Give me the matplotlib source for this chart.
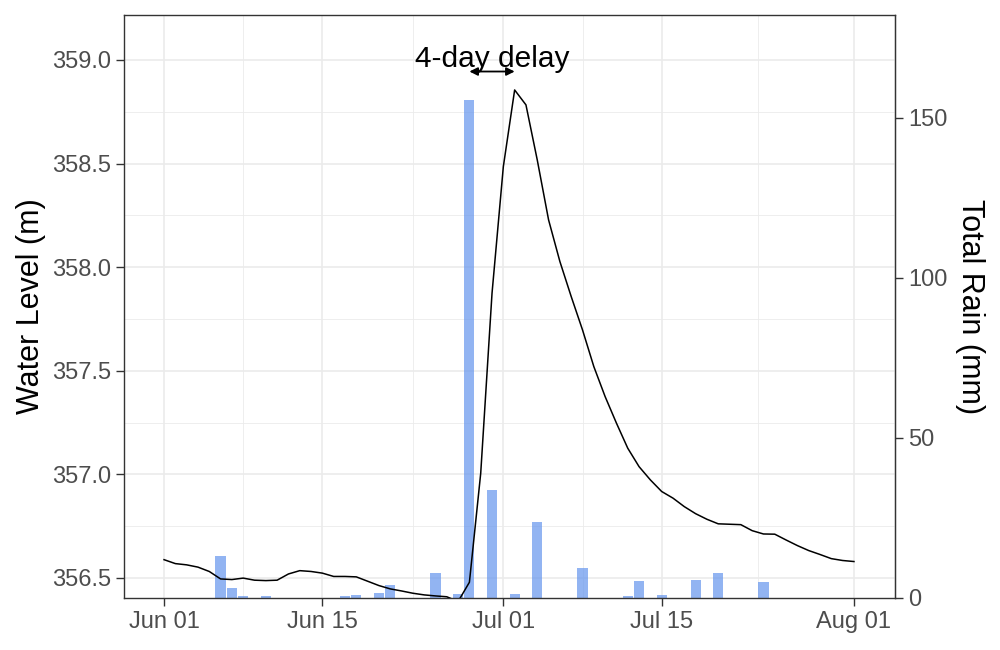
import datetime as dt
import matplotlib
matplotlib.use('Agg')
from matplotlib import pyplot as plt
import matplotlib.dates as mdates
from matplotlib.ticker import MultipleLocator, FixedLocator

plt.rcParams['font.family'] = ['Liberation Sans', 'DejaVu Sans']

# daily water level (m), Jun 01 .. Aug 01
level_start = dt.date(2021, 6, 1)
level = [356.588, 356.569, 356.563, 356.552, 356.531, 356.495, 356.492, 356.499,
         356.489, 356.487, 356.489, 356.519, 356.535, 356.531, 356.523, 356.507,
         356.507, 356.505, 356.484, 356.463, 356.447, 356.437, 356.426, 356.418,
         356.413, 356.409, 356.386, 356.479, 357.005, 357.874, 358.485, 358.855,
         358.783, 358.517, 358.228, 358.027, 357.858, 357.697, 357.520, 357.375,
         357.247, 357.126, 357.037, 356.973, 356.917, 356.885, 356.844, 356.810,
         356.783, 356.761, 356.759, 356.757, 356.728, 356.712, 356.711, 356.683,
         356.656, 356.632, 356.613, 356.593, 356.584, 356.579]

# daily rain totals (mm)
rain_days = ['2021-06-06', '2021-06-07', '2021-06-08', '2021-06-10', '2021-06-17',
             '2021-06-18', '2021-06-20', '2021-06-21', '2021-06-25', '2021-06-27',
             '2021-06-28', '2021-06-30', '2021-07-02', '2021-07-04', '2021-07-08',
             '2021-07-12', '2021-07-13', '2021-07-15', '2021-07-18', '2021-07-20',
             '2021-07-24']
rain_mm = [13.1, 3.1, 0.6, 0.6, 0.6, 1.0, 1.6, 4.0, 7.8, 1.3, 155.6, 33.7, 1.3,
           23.7, 9.4, 0.6, 5.3, 0.9, 5.6, 7.8, 5.0]

x_breaks = ['2021-06-01', '2021-06-15', '2021-07-01', '2021-07-15', '2021-08-01']
x_labels = ['Jun 01', 'Jun 15', 'Jul 01', 'Jul 15', 'Aug 01']

# secondary axis: rain = (level - base) * scale
base = 356.403
scale = 64.7


def lvl2rain(v):
    return (v - base) * scale


def rain2lvl(r):
    return r / scale + base


level_dates = [level_start + dt.timedelta(days=i) for i in range(len(level))]
rain_dates = [dt.date.fromisoformat(d) for d in rain_days]
break_dates = [dt.date.fromisoformat(d) for d in x_breaks]

fig = plt.figure(figsize=(10, 6.5), dpi=100)
ax = fig.add_axes([0.124, 0.08, 0.771, 0.897])

grid_col = '#EBEBEB'
edge_col = '#333333'
text_col = '#4D4D4D'

# bars in level units
bar_heights = [rain2lvl(r) - base for r in rain_mm]
ax.bar(rain_dates, bar_heights, bottom=base, width=0.9, color='cornflowerblue',
       alpha=0.7, zorder=2)
ax.plot(level_dates, level, color='black', lw=1.1, zorder=3)

# annotation
ax.annotate('', xy=(mdates.date2num(dt.date(2021, 6, 28)), 358.944),
            xytext=(mdates.date2num(dt.date(2021, 7, 2)), 358.944),
            arrowprops=dict(arrowstyle='<|-|>', color='black', lw=1.3,
                            mutation_scale=12, shrinkA=0, shrinkB=0), zorder=4)
ax.text(mdates.date2num(dt.date(2021, 6, 30)), 359.005, '4-day delay',
        ha='center', va='center', fontsize=21.5, color='black', zorder=4)

x0 = mdates.date2num(level_start)
ax.set_xlim(x0 - 3.54, x0 + 64.63)
ax.set_ylim(base, 359.217)

bnums = mdates.date2num(break_dates)
ax.xaxis.set_major_locator(FixedLocator(bnums))
ax.set_xticklabels(x_labels)
mids = [(bnums[i] + bnums[i + 1]) / 2 for i in range(len(bnums) - 1)]
ax.xaxis.set_minor_locator(FixedLocator(mids))
ax.yaxis.set_major_locator(MultipleLocator(0.5))
ax.yaxis.set_minor_locator(MultipleLocator(0.25))
ax.yaxis.set_major_formatter(matplotlib.ticker.FormatStrFormatter('%.1f'))

ax.grid(which='major', color=grid_col, lw=1.2, zorder=0)
ax.grid(which='minor', color=grid_col, lw=0.6, zorder=0)
ax.set_axisbelow(True)

for s in ax.spines.values():
    s.set_color(edge_col)
    s.set_linewidth(1.0)

ax.tick_params(which='major', length=5.5, width=1.0, color=edge_col,
               labelcolor=text_col, labelsize=17, pad=4)
ax.tick_params(which='minor', length=0)

ax.set_ylabel('Water Level (m)', fontsize=22, labelpad=4)

sec = ax.secondary_yaxis('right', functions=(lvl2rain, rain2lvl))
sec.set_yticks([0, 50, 100, 150])
sec.spines['right'].set_color(edge_col)
sec.tick_params(length=5.5, width=1.0, color=edge_col, labelcolor=text_col,
                labelsize=17, pad=4)
sec.set_ylabel('Total Rain (mm)', fontsize=22, rotation=270, labelpad=27)

fig.savefig('out.png', dpi=100)
